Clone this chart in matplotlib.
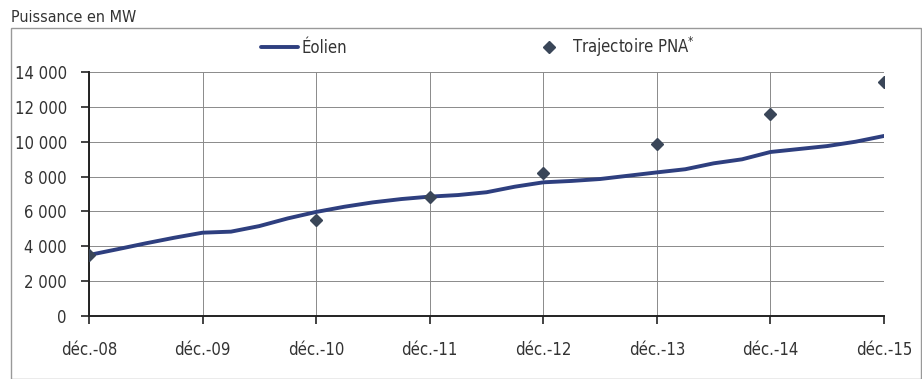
import matplotlib
matplotlib.use("Agg")
import matplotlib.pyplot as plt
from matplotlib.patches import Rectangle
from matplotlib.ticker import FuncFormatter

plt.rcParams['font.family'] = ['DejaVu Sans']
plt.rcParams['font.stretch'] = 'condensed'

# Data (quarterly, dec-08 .. dec-15)
quarters = list(range(29))
eolien = [3500, 3830, 4170, 4490, 4780, 4840, 5160, 5600, 5970,
          6270, 6520, 6710, 6850, 6940, 7100, 7420, 7670,
          7750, 7860, 8050, 8240, 8420, 8760, 8990, 9410,
          9580, 9750, 10000, 10330]
pna_q = [0, 8, 12, 16, 20, 24, 28]
pna_v = [3500, 5500, 6850, 8220, 9850, 11570, 13440]
xtick_pos = [0, 4, 8, 12, 16, 20, 24, 28]
xtick_labels = ['déc.-08', 'déc.-09', 'déc.-10', 'déc.-11',
                'déc.-12', 'déc.-13', 'déc.-14', 'déc.-15']
yticks = [0, 2000, 4000, 6000, 8000, 10000, 12000, 14000]

fig = plt.figure(figsize=(9.22, 3.79), dpi=100)
ax = fig.add_axes([89/922, 1-316/379, (884-89)/922, (316-72)/379])

txt = '#333333'
ax.plot(quarters, eolien, color='#2E3F7F', lw=2.8, label='Éolien', zorder=3,
        solid_capstyle='round', solid_joinstyle='round')
ax.plot(pna_q, pna_v, ls='none', marker='D', ms=6, color='#3A4658',
        label=r'Trajectoire PNA$^{*}$', zorder=4)

ax.set_xlim(0, 28)
ax.set_ylim(0, 14000)
ax.set_xticks(xtick_pos)
ax.set_xticklabels(xtick_labels)
ax.set_yticks(yticks)
ax.yaxis.set_major_formatter(FuncFormatter(lambda v, p: f"{int(v):,}".replace(',', ' ')))
ax.grid(True, color='#8a8a8a', lw=0.7)
ax.set_axisbelow(True)
for s in ['top', 'right']:
    ax.spines[s].set_visible(False)
for s in ['left', 'bottom']:
    ax.spines[s].set_color('#222222')
    ax.spines[s].set_linewidth(1.4)
ax.tick_params(axis='both', direction='out', length=6, width=1.2, color='#222222',
               labelsize=12, labelcolor=txt)
ax.tick_params(axis='x', pad=12)
ax.tick_params(axis='y', pad=10)

leg = ax.legend(loc='center left', bbox_to_anchor=((261-89)/795, 1 + 25/244), ncol=2,
                frameon=False, fontsize=12, handlelength=2.2, handletextpad=0.25,
                columnspacing=11.0, borderaxespad=0, borderpad=0)
for t in leg.get_texts():
    t.set_color(txt)

fig.patches.append(Rectangle((11/922, 0), 910/922, 1-28/379, transform=fig.transFigure,
                             fill=False, edgecolor='#999999', lw=1.0))
fig.text(11/922, 1-17/379, 'Puissance en MW', fontsize=11.5, color=txt, va='center', ha='left')

fig.savefig('out.png', dpi=100)
